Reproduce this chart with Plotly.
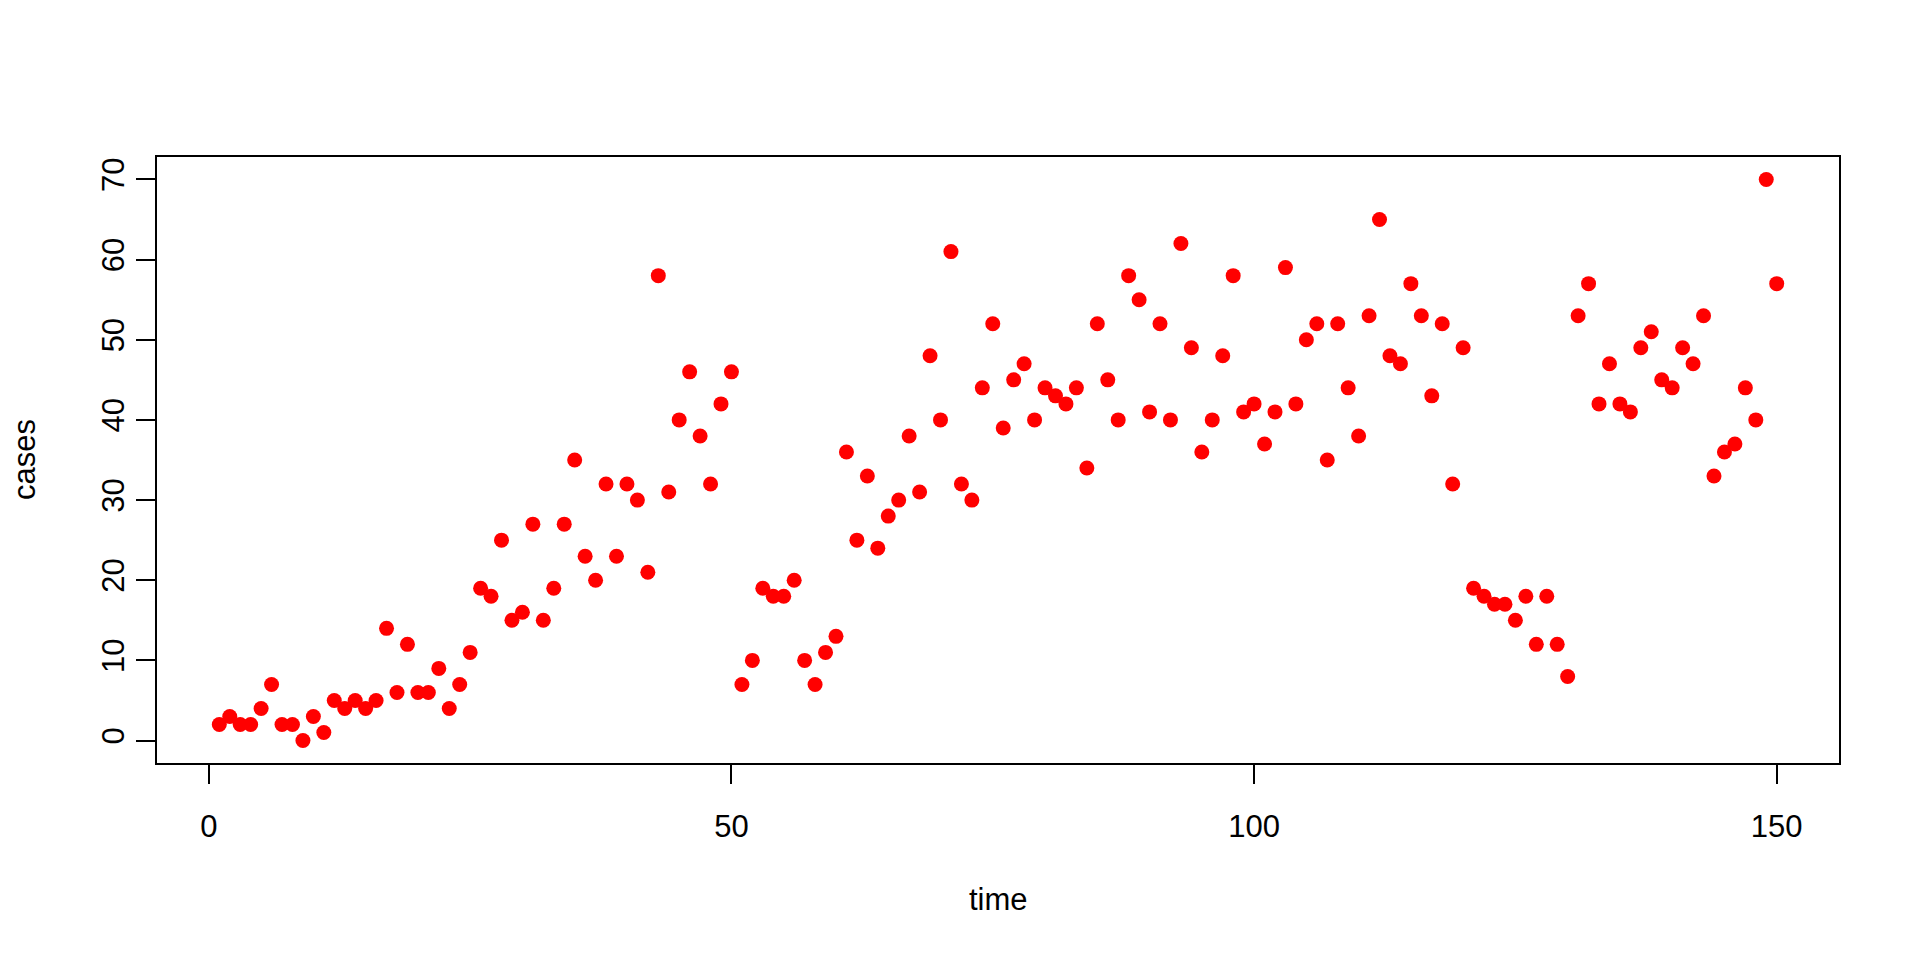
import plotly.graph_objects as go

time = list(range(1, 151))
cases = [
    2, 3, 2, 2, 4, 7, 2, 2, 0, 3,
    1, 5, 4, 5, 4, 5, 14, 6, 12, 6,
    6, 9, 4, 7, 11, 19, 18, 25, 15, 16,
    27, 15, 19, 27, 35, 23, 20, 32, 23, 32,
    30, 21, 58, 31, 40, 46, 38, 32, 42, 46,
    7, 10, 19, 18, 18, 20, 10, 7, 11, 13,
    36, 25, 33, 24, 28, 30, 38, 31, 48, 40,
    61, 32, 30, 44, 52, 39, 45, 47, 40, 44,
    43, 42, 44, 34, 52, 45, 40, 58, 55, 41,
    52, 40, 62, 49, 36, 40, 48, 58, 41, 42,
    37, 41, 59, 42, 50, 52, 35, 52, 44, 38,
    53, 65, 48, 47, 57, 53, 43, 52, 32, 49,
    19, 18, 17, 17, 15, 18, 12, 18, 12, 8,
    53, 57, 42, 47, 42, 41, 49, 51, 45, 44,
    49, 47, 53, 33, 36, 37, 44, 40, 70, 57,
]
x_ticks = [0, 50, 100, 150]
y_ticks = [0, 10, 20, 30, 40, 50, 60, 70]
x_title = "time"
y_title = "cases"

W, H = 1920, 960
L, R, T, B = 157, 81, 157, 197
pw, ph = W - L - R, H - T - B

FONT = "Liberation Sans, Arial, Helvetica, sans-serif"
FS = 31

# R-style 4% axis extension
xmin, xmax = min(time), max(time)
ymin, ymax = min(cases), max(cases)
xpad = (xmax - xmin) * 0.04
ypad = (ymax - ymin) * 0.04

fig = go.Figure()
fig.add_trace(go.Scatter(
    x=time, y=cases, mode="markers",
    marker=dict(color="#FF0000", size=15, line=dict(width=0)),
    showlegend=False, hoverinfo="x+y",
))

axis_common = dict(
    showgrid=False, zeroline=False, showline=True, mirror=True,
    linecolor="black", linewidth=1.5, ticks="outside", ticklen=19,
    tickwidth=1.5, tickcolor="black",
    tickfont=dict(family=FONT, size=FS, color="black"),
)
fig.update_layout(
    width=W, height=H,
    margin=dict(l=L, r=R, t=T, b=B, autoexpand=False),
    paper_bgcolor="white", plot_bgcolor="white",
    font=dict(family=FONT, size=FS, color="black"),
    xaxis=dict(range=[xmin - xpad, xmax + xpad], tickvals=x_ticks,
               ticktext=[str(v) for v in x_ticks], ticklabelstandoff=16,
               **axis_common),
    yaxis=dict(range=[ymin - ypad, ymax + ypad], tickvals=y_ticks,
               ticktext=[str(v) for v in y_ticks], tickangle=-90,
               **axis_common),
)
fig.add_annotation(
    text=x_title, xref="paper", yref="paper",
    x=0.5, y=(T + ph - 899) / ph, xanchor="center", yanchor="middle",
    showarrow=False, font=dict(family=FONT, size=FS, color="black"),
)
fig.add_annotation(
    text=y_title, xref="paper", yref="paper",
    x=(24 - L) / pw, y=0.5, xanchor="center", yanchor="middle",
    textangle=-90, showarrow=False,
    font=dict(family=FONT, size=FS, color="black"),
)

fig.write_html(
    "out.html",
    config={"displayModeBar": False},
    post_script="document.body.style.margin='0';document.body.style.overflow='hidden';",
)
